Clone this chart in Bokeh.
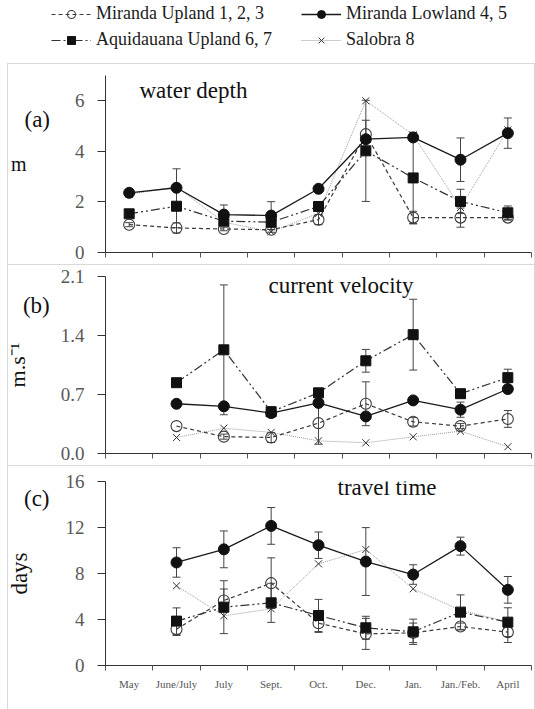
from bokeh.plotting import figure
from bokeh.models import (ColumnDataSource, Whisker, TeeHead, Label, Legend, LegendItem,
                          FixedTicker, Range1d, NumeralTickFormatter, LinearAxis)
from bokeh.layouts import column
from bokeh.embed import file_html
from bokeh.resources import INLINE

# ---------------- data ----------------
months = ["May", "June/July", "July", "Sept.", "Oct.", "Dec.", "Jan.", "Jan./Feb.", "April"]
months_bc = months[1:]

series_names = ["Miranda Upland 1, 2, 3", "Miranda Lowland 4, 5",
                "Aquidauana Upland 6, 7", "Salobra 8"]

# (a) water depth (m)
depth_upland = [1.10, 0.97, 0.93, 0.90, 1.30, 4.68, 1.38, 1.38, 1.38]
depth_upland_err = [0.08, 0.20, 0.07, 0.10, 0.20, 0.55, 0.25, 0.38, 0.10]
depth_lowland = [2.36, 2.56, 1.50, 1.46, 2.52, 4.48, 4.55, 3.67, 4.72]
depth_lowland_err = [0.0, 0.75, 0.38, 0.55, 0.0, 0.0, 0.0, 0.86, 0.60]
depth_aquid = [1.53, 1.83, 1.24, 1.20, 1.82, 4.02, 2.95, 2.02, 1.57]
depth_aquid_err = [0.0, 0.85, 0.0, 0.0, 0.0, 2.00, 1.80, 0.48, 0.27]
depth_salobra = [2.30, 2.60, 1.20, 0.82, 1.55, 6.00, 4.65, 1.78, 4.85]

# (b) current velocity (m/s)
vel_upland = [0.325, 0.20, 0.19, 0.36, 0.59, 0.376, 0.325, 0.41]
vel_upland_err = [0.0, 0.03, 0.06, 0.25, 0.26, 0.05, 0.03, 0.10]
vel_lowland = [0.59, 0.56, 0.48, 0.60, 0.44, 0.63, 0.52, 0.765]
vel_lowland_err = [0.0, 0.0, 0.04, 0.0, 0.0, 0.0, 0.09, 0.0]
vel_aquid = [0.84, 1.23, 0.495, 0.72, 1.10, 1.41, 0.71, 0.90]
vel_aquid_err = [0.0, 0.77, 0.06, 0.0, 0.135, 0.42, 0.03, 0.10]
vel_salobra = [0.19, 0.30, 0.25, 0.15, 0.127, 0.198, 0.265, 0.08]

# (c) travel time (days)
tt_upland = [3.16, 5.65, 7.16, 3.68, 2.75, 2.84, 3.39, 2.90]
tt_upland_err = [0.55, 1.00, 2.20, 0.80, 1.35, 0.85, 0.30, 0.90]
tt_lowland = [8.96, 10.10, 12.14, 10.46, 9.04, 7.91, 10.38, 6.58]
tt_lowland_err = [1.28, 1.60, 1.60, 1.15, 2.95, 0.85, 0.78, 1.16]
tt_aquid = [3.86, 5.07, 5.45, 4.35, 3.28, 2.93, 4.64, 3.77]
tt_aquid_err = [1.15, 2.30, 1.70, 1.40, 1.00, 1.10, 1.50, 1.25]
tt_salobra = [6.93, 4.32, 4.93, 8.84, 10.09, 6.67, 4.80, 3.80]

ticks_a = [0, 2, 4, 6]
ticks_b = [0.0, 0.7, 1.4, 2.1]
ticks_c = [0, 4, 8, 12, 16]

# ---------------- styles ----------------
FONT = "Liberation Serif"
W = 535
LEFT = 105
RIGHT = 4
PX_PER_CAT = (W - LEFT - RIGHT) / len(months)
BOX = "#d9d9d9"

STY = {
    "upland": dict(line=dict(line_color="#3a3a3a", line_dash="4 3", line_width=1.2),
                   mk=dict(marker="circle", size=11, line_color="#3a3a3a", fill_color=None, line_width=1.1)),
    "lowland": dict(line=dict(line_color="#1a1a1a", line_width=1.3),
                    mk=dict(marker="circle", size=11, line_color="#111111", fill_color="#111111")),
    "aquid": dict(line=dict(line_color="#333333", line_dash="9 3 2 3 2 3", line_width=1.2),
                  mk=dict(marker="square", size=10, line_color="#111111", fill_color="#111111")),
    "salobra": dict(line=dict(line_color="#9a9a9a", line_dash="1 1", line_width=1.0),
                    mk=dict(marker="x", size=10, line_color="#333333", line_width=1.0)),
}


def box_styles(top):
    g = f"linear-gradient({BOX},{BOX})"
    return {
        "background-color": "white",
        "background-image": f"{g}, {g}, {g}",
        "background-size": f"calc(100% - 7px) 1px, 1px calc(100% - {top}px), 1px calc(100% - {top}px)",
        "background-position": f"7px {top}px, 7px {top}px, 534px {top}px",
        "background-repeat": "no-repeat",
    }


def xpos(labels):
    return [months.index(m) + 0.5 for m in labels]


def add_series(p, labels, y, err, key):
    xs = xpos(labels)
    if err is not None:
        ex = [x for x, e in zip(xs, err) if e > 0]
        ey = [v for v, e in zip(y, err) if e > 0]
        ee = [e for e in err if e > 0]
        src = ColumnDataSource(dict(x=ex, upper=[a + b for a, b in zip(ey, ee)],
                                    lower=[a - b for a, b in zip(ey, ee)]))
        w = Whisker(base="x", upper="upper", lower="lower", source=src,
                    line_color="#444444", line_width=1,
                    upper_head=TeeHead(size=8, line_color="#444444", line_width=1),
                    lower_head=TeeHead(size=8, line_color="#444444", line_width=1))
        p.add_layout(w)
    rl = p.line(xs, y, **STY[key]["line"])
    rm = p.scatter(xs, y, **STY[key]["mk"])
    return rl, rm


def make_panel(height, top, bottom, ymax, yticks, fmt, show_x,
               tag, tag_standoff, unit, unit_size, unit_horizontal, unit_standoff):
    p = figure(width=W, height=height, x_range=Range1d(0, len(months)),
               y_range=Range1d(0, ymax), toolbar_location=None, output_backend="svg",
               min_border_left=LEFT, min_border_right=RIGHT, min_border_top=top,
               min_border_bottom=bottom, outline_line_color=None,
               border_fill_alpha=0, background_fill_alpha=0,
               styles=box_styles(0))
    p.grid.visible = False
    xa = p.xaxis[0]
    centers = [i + 0.5 for i in range(len(months))]
    xa.ticker = FixedTicker(ticks=centers if show_x else [],
                            minor_ticks=list(range(len(months) + 1)))
    xa.major_tick_out = 0
    xa.major_tick_in = 0
    xa.minor_tick_out = 5
    xa.minor_tick_in = 0
    xa.axis_line_color = "#333333"
    xa.minor_tick_line_color = "#555555"
    if show_x:
        xa.major_label_overrides = {c: m for c, m in zip(centers, months)}
        xa.major_label_text_font = FONT
        xa.major_label_text_font_size = "11px"
        xa.major_label_text_color = "#555555"
        xa.major_label_standoff = 7
    else:
        xa.major_label_standoff = 0
    ya = p.yaxis[0]
    ya.ticker = FixedTicker(ticks=yticks, minor_ticks=[])
    if fmt:
        ya.formatter = NumeralTickFormatter(format=fmt)
    ya.major_tick_out = 8
    ya.major_tick_in = 0
    ya.axis_line_color = "#333333"
    ya.major_tick_line_color = "#333333"
    ya.major_label_text_font = FONT
    ya.major_label_text_font_size = "19px"
    ya.major_label_text_color = "#595959"
    ya.major_label_standoff = 13
    # panel tag "(a)" etc. as a horizontal axis label (extra blank lines lift it up)
    ya.axis_label = tag
    ya.axis_label_orientation = "horizontal"
    ya.axis_label_text_font = FONT
    ya.axis_label_text_font_style = "normal"
    ya.axis_label_text_font_size = "23px"
    ya.axis_label_text_color = "#111111"
    ya.axis_label_standoff = tag_standoff
    # unit label on an outer, bare axis
    ua = LinearAxis(ticker=FixedTicker(ticks=[], minor_ticks=[]), axis_line_color=None,
                    major_tick_line_color=None, minor_tick_line_color=None,
                    major_tick_out=0, minor_tick_out=0, major_label_standoff=0,
                    axis_label=unit, axis_label_text_font=FONT,
                    axis_label_text_font_style="normal", axis_label_text_font_size=unit_size,
                    axis_label_text_color="#111111", axis_label_standoff=unit_standoff)
    if unit_horizontal:
        ua.axis_label_orientation = "horizontal"
    p.add_layout(ua, "left")
    return p


def add_title(p, x_px, y, text):
    p.add_layout(Label(x=x_px / PX_PER_CAT, y=y, text=text, text_font=FONT,
                       text_font_size="23px", text_color="#111111", text_align="left",
                       text_baseline="middle"))


def add_all(p, labels, data):
    rs = {}
    for key in ["salobra", "upland", "aquid", "lowland"]:
        y, err = data[key]
        rs[key] = add_series(p, labels, y, err, key)
    return rs


# ---------------- panel (a) ----------------
pa = make_panel(201, 12, 12, 7, ticks_a, None, False,
                "(a)\n\n\n", 22, "m", "20px", True, -5)
add_all(pa, months, {
    "salobra": (depth_salobra, None),
    "upland": (depth_upland, depth_upland_err),
    "aquid": (depth_aquid, depth_aquid_err),
    "lowland": (depth_lowland, depth_lowland_err),
})
add_title(pa, 34, 6.41, "water depth")

# ---------------- panel (b) ----------------
pb = make_panel(201, 12, 12, 2.1, ticks_b, "0.0", False,
                "(b)\n\n\n\n", 8, "m.s\u207b\u00b9", "22px", False, -10)
add_all(pb, months_bc, {
    "salobra": (vel_salobra, None),
    "upland": (vel_upland, vel_upland_err),
    "aquid": (vel_aquid, vel_aquid_err),
    "lowland": (vel_lowland, vel_lowland_err),
})
add_title(pb, 163, 1.99, "current velocity")

# ---------------- panel (c) ----------------
pc = make_panel(244, 16, 44, 16, ticks_c, None, True,
                "(c)\n\n\n\n\n", 13, "days", "23px", False, -11)
add_all(pc, months_bc, {
    "salobra": (tt_salobra, None),
    "upland": (tt_upland, tt_upland_err),
    "aquid": (tt_aquid, tt_aquid_err),
    "lowland": (tt_lowland, tt_lowland_err),
})
add_title(pc, 232, 15.5, "travel time")

# ---------------- legend strip (own root, series hidden, only the key shows) ----------------
pl = figure(width=W, height=63, x_range=Range1d(0, 1), y_range=Range1d(0, 1),
            toolbar_location=None, output_backend="svg", min_border=0,
            x_axis_location=None, y_axis_location=None, outline_line_color=None)
pl.grid.visible = False
key_series = {"upland": depth_upland, "lowland": depth_lowland,
              "aquid": depth_aquid, "salobra": depth_salobra}
key_items = []
for key, name in zip(["upland", "lowland", "aquid", "salobra"], series_names):
    rl = pl.line(xpos(months), key_series[key], visible=False, **STY[key]["line"])
    rm = pl.scatter(xpos(months), key_series[key], visible=False, **STY[key]["mk"])
    key_items.append(LegendItem(label=name, renderers=[rl, rm]))

legend = Legend(items=key_items, orientation="horizontal", ncols=2, location=(51, 13),
                label_text_font=FONT, label_text_font_size="18px", label_text_color="#1a1a1a",
                glyph_width=40, glyph_height=20, label_height=20, label_width=200,
                label_standoff=5, spacing=5, padding=0, margin=0,
                border_line_color=None, background_fill_alpha=0,
                inactive_fill_alpha=0)
pl.add_layout(legend)

panels = column(pa, pb, pc, spacing=0)
open("out.html", "w").write(file_html([pl, panels], INLINE))
